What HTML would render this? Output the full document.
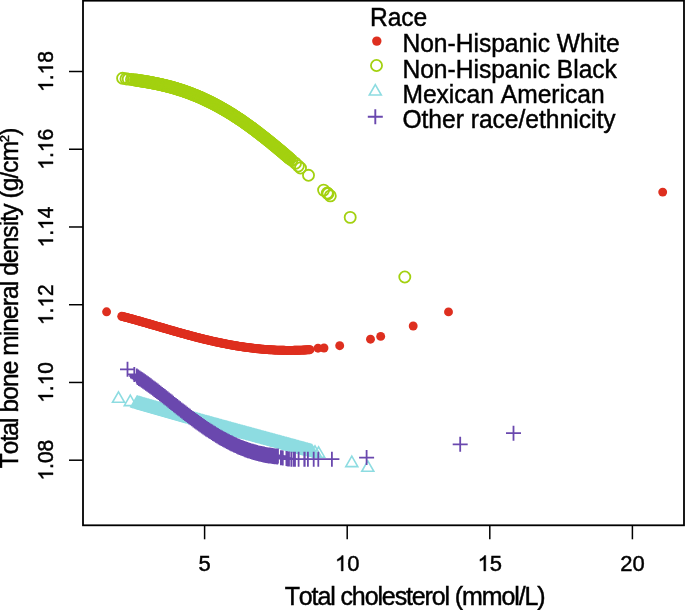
<!DOCTYPE html>
<html><head><meta charset="utf-8"><style>
html,body{margin:0;padding:0;background:#fff;}
svg{display:block;will-change:transform;}
text{font-family:"Liberation Sans",sans-serif;fill:#000;stroke:#000;stroke-width:0.45px;font-kerning:none;}
.tkx{font-size:22px;}
.tky{font-size:21px;}
.ttl{font-size:25px;letter-spacing:-1.12px;font-kerning:none;}
.ytl{font-size:24.5px;letter-spacing:-0.9px;}
.sup{font-size:13px;letter-spacing:0;}
.lg{font-size:24.6px;}
.g1{fill:#000;stroke:#000;stroke-width:0.45px;vector-effect:non-scaling-stroke;}
</style></head><body>
<svg width="685" height="610" viewBox="0 0 685 610">
<g fill="#de2f1f"><circle cx="106.6" cy="311.8" r="4.45"/><circle cx="121.7" cy="316.3" r="4.45"/><circle cx="122.5" cy="316.5" r="4.45"/><circle cx="123.3" cy="316.7" r="4.45"/><circle cx="124.1" cy="316.9" r="4.45"/><circle cx="124.9" cy="317.1" r="4.45"/><circle cx="125.7" cy="317.3" r="4.45"/><circle cx="126.5" cy="317.5" r="4.45"/><circle cx="127.3" cy="317.7" r="4.45"/><circle cx="128.1" cy="317.9" r="4.45"/><circle cx="128.9" cy="318.2" r="4.45"/><circle cx="129.7" cy="318.4" r="4.45"/><circle cx="130.5" cy="318.6" r="4.45"/><circle cx="131.3" cy="318.8" r="4.45"/><circle cx="132.1" cy="319.0" r="4.45"/><circle cx="132.9" cy="319.2" r="4.45"/><circle cx="133.7" cy="319.5" r="4.45"/><circle cx="134.5" cy="319.7" r="4.45"/><circle cx="135.3" cy="319.9" r="4.45"/><circle cx="136.1" cy="320.1" r="4.45"/><circle cx="136.9" cy="320.4" r="4.45"/><circle cx="137.7" cy="320.6" r="4.45"/><circle cx="138.5" cy="320.8" r="4.45"/><circle cx="139.3" cy="321.0" r="4.45"/><circle cx="140.1" cy="321.3" r="4.45"/><circle cx="140.9" cy="321.5" r="4.45"/><circle cx="141.7" cy="321.7" r="4.45"/><circle cx="142.5" cy="322.0" r="4.45"/><circle cx="143.3" cy="322.2" r="4.45"/><circle cx="144.1" cy="322.4" r="4.45"/><circle cx="144.9" cy="322.6" r="4.45"/><circle cx="145.7" cy="322.9" r="4.45"/><circle cx="146.5" cy="323.1" r="4.45"/><circle cx="147.3" cy="323.3" r="4.45"/><circle cx="148.1" cy="323.6" r="4.45"/><circle cx="148.9" cy="323.8" r="4.45"/><circle cx="149.7" cy="324.0" r="4.45"/><circle cx="150.5" cy="324.3" r="4.45"/><circle cx="151.3" cy="324.5" r="4.45"/><circle cx="152.1" cy="324.7" r="4.45"/><circle cx="152.9" cy="325.0" r="4.45"/><circle cx="153.8" cy="325.2" r="4.45"/><circle cx="154.6" cy="325.4" r="4.45"/><circle cx="155.4" cy="325.7" r="4.45"/><circle cx="156.2" cy="325.9" r="4.45"/><circle cx="157.0" cy="326.1" r="4.45"/><circle cx="157.8" cy="326.4" r="4.45"/><circle cx="158.6" cy="326.6" r="4.45"/><circle cx="159.4" cy="326.8" r="4.45"/><circle cx="160.2" cy="327.1" r="4.45"/><circle cx="161.0" cy="327.3" r="4.45"/><circle cx="161.8" cy="327.5" r="4.45"/><circle cx="162.6" cy="327.8" r="4.45"/><circle cx="163.4" cy="328.0" r="4.45"/><circle cx="164.2" cy="328.2" r="4.45"/><circle cx="165.0" cy="328.5" r="4.45"/><circle cx="165.8" cy="328.7" r="4.45"/><circle cx="166.6" cy="328.9" r="4.45"/><circle cx="167.4" cy="329.2" r="4.45"/><circle cx="168.2" cy="329.4" r="4.45"/><circle cx="169.0" cy="329.6" r="4.45"/><circle cx="169.8" cy="329.9" r="4.45"/><circle cx="170.6" cy="330.1" r="4.45"/><circle cx="171.4" cy="330.3" r="4.45"/><circle cx="172.2" cy="330.6" r="4.45"/><circle cx="173.0" cy="330.8" r="4.45"/><circle cx="173.8" cy="331.0" r="4.45"/><circle cx="174.6" cy="331.2" r="4.45"/><circle cx="175.4" cy="331.5" r="4.45"/><circle cx="176.2" cy="331.7" r="4.45"/><circle cx="177.0" cy="331.9" r="4.45"/><circle cx="177.8" cy="332.2" r="4.45"/><circle cx="178.6" cy="332.4" r="4.45"/><circle cx="179.4" cy="332.6" r="4.45"/><circle cx="180.2" cy="332.8" r="4.45"/><circle cx="181.0" cy="333.1" r="4.45"/><circle cx="181.8" cy="333.3" r="4.45"/><circle cx="182.6" cy="333.5" r="4.45"/><circle cx="183.4" cy="333.7" r="4.45"/><circle cx="184.2" cy="333.9" r="4.45"/><circle cx="185.0" cy="334.2" r="4.45"/><circle cx="185.8" cy="334.4" r="4.45"/><circle cx="186.6" cy="334.6" r="4.45"/><circle cx="187.4" cy="334.8" r="4.45"/><circle cx="188.2" cy="335.0" r="4.45"/><circle cx="189.0" cy="335.3" r="4.45"/><circle cx="189.8" cy="335.5" r="4.45"/><circle cx="190.6" cy="335.7" r="4.45"/><circle cx="191.4" cy="335.9" r="4.45"/><circle cx="192.2" cy="336.1" r="4.45"/><circle cx="193.0" cy="336.3" r="4.45"/><circle cx="193.8" cy="336.5" r="4.45"/><circle cx="194.6" cy="336.7" r="4.45"/><circle cx="195.4" cy="337.0" r="4.45"/><circle cx="196.2" cy="337.2" r="4.45"/><circle cx="197.0" cy="337.4" r="4.45"/><circle cx="197.8" cy="337.6" r="4.45"/><circle cx="198.6" cy="337.8" r="4.45"/><circle cx="199.4" cy="338.0" r="4.45"/><circle cx="200.2" cy="338.2" r="4.45"/><circle cx="201.0" cy="338.4" r="4.45"/><circle cx="201.8" cy="338.6" r="4.45"/><circle cx="202.6" cy="338.8" r="4.45"/><circle cx="203.4" cy="339.0" r="4.45"/><circle cx="204.2" cy="339.2" r="4.45"/><circle cx="205.0" cy="339.4" r="4.45"/><circle cx="205.8" cy="339.6" r="4.45"/><circle cx="206.6" cy="339.8" r="4.45"/><circle cx="207.4" cy="339.9" r="4.45"/><circle cx="208.2" cy="340.1" r="4.45"/><circle cx="209.0" cy="340.3" r="4.45"/><circle cx="209.8" cy="340.5" r="4.45"/><circle cx="210.6" cy="340.7" r="4.45"/><circle cx="211.4" cy="340.9" r="4.45"/><circle cx="212.2" cy="341.1" r="4.45"/><circle cx="213.0" cy="341.2" r="4.45"/><circle cx="213.8" cy="341.4" r="4.45"/><circle cx="214.6" cy="341.6" r="4.45"/><circle cx="215.4" cy="341.8" r="4.45"/><circle cx="216.3" cy="342.0" r="4.45"/><circle cx="217.1" cy="342.1" r="4.45"/><circle cx="217.9" cy="342.3" r="4.45"/><circle cx="218.7" cy="342.5" r="4.45"/><circle cx="219.5" cy="342.6" r="4.45"/><circle cx="220.3" cy="342.8" r="4.45"/><circle cx="221.1" cy="343.0" r="4.45"/><circle cx="221.9" cy="343.1" r="4.45"/><circle cx="222.7" cy="343.3" r="4.45"/><circle cx="223.5" cy="343.5" r="4.45"/><circle cx="224.3" cy="343.6" r="4.45"/><circle cx="225.1" cy="343.8" r="4.45"/><circle cx="225.9" cy="343.9" r="4.45"/><circle cx="226.7" cy="344.1" r="4.45"/><circle cx="227.5" cy="344.3" r="4.45"/><circle cx="228.3" cy="344.4" r="4.45"/><circle cx="229.1" cy="344.6" r="4.45"/><circle cx="229.9" cy="344.7" r="4.45"/><circle cx="230.7" cy="344.9" r="4.45"/><circle cx="231.5" cy="345.0" r="4.45"/><circle cx="232.3" cy="345.1" r="4.45"/><circle cx="233.1" cy="345.3" r="4.45"/><circle cx="233.9" cy="345.4" r="4.45"/><circle cx="234.7" cy="345.6" r="4.45"/><circle cx="235.5" cy="345.7" r="4.45"/><circle cx="236.3" cy="345.8" r="4.45"/><circle cx="237.1" cy="346.0" r="4.45"/><circle cx="237.9" cy="346.1" r="4.45"/><circle cx="238.7" cy="346.2" r="4.45"/><circle cx="239.5" cy="346.4" r="4.45"/><circle cx="240.3" cy="346.5" r="4.45"/><circle cx="241.1" cy="346.6" r="4.45"/><circle cx="241.9" cy="346.7" r="4.45"/><circle cx="242.7" cy="346.8" r="4.45"/><circle cx="243.5" cy="347.0" r="4.45"/><circle cx="244.3" cy="347.1" r="4.45"/><circle cx="245.1" cy="347.2" r="4.45"/><circle cx="245.9" cy="347.3" r="4.45"/><circle cx="246.7" cy="347.4" r="4.45"/><circle cx="247.5" cy="347.5" r="4.45"/><circle cx="248.3" cy="347.6" r="4.45"/><circle cx="249.1" cy="347.7" r="4.45"/><circle cx="249.9" cy="347.8" r="4.45"/><circle cx="250.7" cy="347.9" r="4.45"/><circle cx="251.5" cy="348.0" r="4.45"/><circle cx="252.3" cy="348.1" r="4.45"/><circle cx="253.1" cy="348.2" r="4.45"/><circle cx="253.9" cy="348.3" r="4.45"/><circle cx="254.7" cy="348.4" r="4.45"/><circle cx="255.5" cy="348.5" r="4.45"/><circle cx="256.3" cy="348.6" r="4.45"/><circle cx="257.1" cy="348.7" r="4.45"/><circle cx="257.9" cy="348.8" r="4.45"/><circle cx="258.7" cy="348.8" r="4.45"/><circle cx="259.5" cy="348.9" r="4.45"/><circle cx="260.3" cy="349.0" r="4.45"/><circle cx="261.1" cy="349.1" r="4.45"/><circle cx="261.9" cy="349.1" r="4.45"/><circle cx="262.7" cy="349.2" r="4.45"/><circle cx="263.5" cy="349.3" r="4.45"/><circle cx="264.3" cy="349.4" r="4.45"/><circle cx="265.1" cy="349.4" r="4.45"/><circle cx="265.9" cy="349.5" r="4.45"/><circle cx="266.7" cy="349.5" r="4.45"/><circle cx="267.5" cy="349.6" r="4.45"/><circle cx="268.3" cy="349.7" r="4.45"/><circle cx="269.1" cy="349.7" r="4.45"/><circle cx="269.9" cy="349.8" r="4.45"/><circle cx="270.7" cy="349.8" r="4.45"/><circle cx="271.5" cy="349.9" r="4.45"/><circle cx="272.3" cy="349.9" r="4.45"/><circle cx="273.1" cy="349.9" r="4.45"/><circle cx="273.9" cy="350.0" r="4.45"/><circle cx="274.7" cy="350.0" r="4.45"/><circle cx="275.5" cy="350.1" r="4.45"/><circle cx="276.3" cy="350.1" r="4.45"/><circle cx="277.1" cy="350.1" r="4.45"/><circle cx="277.9" cy="350.2" r="4.45"/><circle cx="278.8" cy="350.2" r="4.45"/><circle cx="279.6" cy="350.2" r="4.45"/><circle cx="280.4" cy="350.2" r="4.45"/><circle cx="281.2" cy="350.3" r="4.45"/><circle cx="282.0" cy="350.3" r="4.45"/><circle cx="282.8" cy="350.3" r="4.45"/><circle cx="283.6" cy="350.3" r="4.45"/><circle cx="284.4" cy="350.3" r="4.45"/><circle cx="285.2" cy="350.4" r="4.45"/><circle cx="286.0" cy="350.4" r="4.45"/><circle cx="286.8" cy="350.4" r="4.45"/><circle cx="287.6" cy="350.4" r="4.45"/><circle cx="288.4" cy="350.4" r="4.45"/><circle cx="289.2" cy="350.4" r="4.45"/><circle cx="290.0" cy="350.4" r="4.45"/><circle cx="290.8" cy="350.4" r="4.45"/><circle cx="291.6" cy="350.4" r="4.45"/><circle cx="292.4" cy="350.4" r="4.45"/><circle cx="293.2" cy="350.4" r="4.45"/><circle cx="294.0" cy="350.3" r="4.45"/><circle cx="294.8" cy="350.3" r="4.45"/><circle cx="295.6" cy="350.3" r="4.45"/><circle cx="296.4" cy="350.3" r="4.45"/><circle cx="297.2" cy="350.3" r="4.45"/><circle cx="298.0" cy="350.3" r="4.45"/><circle cx="298.8" cy="350.2" r="4.45"/><circle cx="299.6" cy="350.2" r="4.45"/><circle cx="300.4" cy="350.2" r="4.45"/><circle cx="301.2" cy="350.1" r="4.45"/><circle cx="302.0" cy="350.1" r="4.45"/><circle cx="302.8" cy="350.1" r="4.45"/><circle cx="303.6" cy="350.0" r="4.45"/><circle cx="304.4" cy="350.0" r="4.45"/><circle cx="305.2" cy="350.0" r="4.45"/><circle cx="306.0" cy="349.9" r="4.45"/><circle cx="306.8" cy="349.9" r="4.45"/><circle cx="307.6" cy="349.8" r="4.45"/><circle cx="308.4" cy="349.8" r="4.45"/><circle cx="309.2" cy="349.7" r="4.45"/><circle cx="310.0" cy="349.7" r="4.45"/><circle cx="318.0" cy="348.2" r="4.45"/><circle cx="324.0" cy="348.0" r="4.45"/><circle cx="339.7" cy="345.7" r="4.45"/><circle cx="370.5" cy="339.2" r="4.45"/><circle cx="380.7" cy="336.4" r="4.45"/><circle cx="413.2" cy="326.0" r="4.45"/><circle cx="448.5" cy="311.9" r="4.45"/><circle cx="662.7" cy="192.1" r="4.45"/></g>
<g fill="none" stroke="#a3d110" stroke-width="1.8"><circle cx="122.6" cy="78.3" r="5.55"/><circle cx="126.0" cy="78.8" r="5.55"/><circle cx="128.2" cy="79.1" r="5.55"/><circle cx="131.5" cy="79.5" r="5.55"/><circle cx="133.6" cy="79.8" r="5.55"/><circle cx="135.5" cy="80.0" r="5.55"/><circle cx="136.2" cy="80.1" r="5.55"/><circle cx="136.9" cy="80.2" r="5.55"/><circle cx="137.6" cy="80.3" r="5.55"/><circle cx="138.3" cy="80.5" r="5.55"/><circle cx="139.0" cy="80.6" r="5.55"/><circle cx="139.7" cy="80.7" r="5.55"/><circle cx="140.4" cy="80.8" r="5.55"/><circle cx="141.1" cy="80.9" r="5.55"/><circle cx="141.8" cy="81.0" r="5.55"/><circle cx="142.5" cy="81.1" r="5.55"/><circle cx="143.2" cy="81.2" r="5.55"/><circle cx="143.9" cy="81.3" r="5.55"/><circle cx="144.6" cy="81.4" r="5.55"/><circle cx="145.3" cy="81.6" r="5.55"/><circle cx="146.0" cy="81.7" r="5.55"/><circle cx="146.7" cy="81.8" r="5.55"/><circle cx="147.4" cy="81.9" r="5.55"/><circle cx="148.1" cy="82.0" r="5.55"/><circle cx="148.8" cy="82.2" r="5.55"/><circle cx="149.5" cy="82.3" r="5.55"/><circle cx="150.2" cy="82.4" r="5.55"/><circle cx="150.9" cy="82.5" r="5.55"/><circle cx="151.6" cy="82.7" r="5.55"/><circle cx="152.3" cy="82.8" r="5.55"/><circle cx="153.0" cy="82.9" r="5.55"/><circle cx="153.7" cy="83.1" r="5.55"/><circle cx="154.4" cy="83.2" r="5.55"/><circle cx="155.1" cy="83.4" r="5.55"/><circle cx="155.8" cy="83.5" r="5.55"/><circle cx="156.5" cy="83.6" r="5.55"/><circle cx="157.2" cy="83.8" r="5.55"/><circle cx="157.9" cy="83.9" r="5.55"/><circle cx="158.6" cy="84.1" r="5.55"/><circle cx="159.3" cy="84.2" r="5.55"/><circle cx="160.0" cy="84.4" r="5.55"/><circle cx="160.7" cy="84.5" r="5.55"/><circle cx="161.4" cy="84.7" r="5.55"/><circle cx="162.1" cy="84.9" r="5.55"/><circle cx="162.8" cy="85.0" r="5.55"/><circle cx="163.5" cy="85.2" r="5.55"/><circle cx="164.2" cy="85.4" r="5.55"/><circle cx="164.9" cy="85.5" r="5.55"/><circle cx="165.6" cy="85.7" r="5.55"/><circle cx="166.3" cy="85.9" r="5.55"/><circle cx="167.0" cy="86.0" r="5.55"/><circle cx="167.7" cy="86.2" r="5.55"/><circle cx="168.4" cy="86.4" r="5.55"/><circle cx="169.1" cy="86.6" r="5.55"/><circle cx="169.8" cy="86.8" r="5.55"/><circle cx="170.5" cy="87.0" r="5.55"/><circle cx="171.2" cy="87.1" r="5.55"/><circle cx="171.9" cy="87.3" r="5.55"/><circle cx="172.6" cy="87.5" r="5.55"/><circle cx="173.3" cy="87.7" r="5.55"/><circle cx="174.0" cy="87.9" r="5.55"/><circle cx="174.6" cy="88.1" r="5.55"/><circle cx="175.3" cy="88.3" r="5.55"/><circle cx="176.0" cy="88.5" r="5.55"/><circle cx="176.7" cy="88.8" r="5.55"/><circle cx="177.4" cy="89.0" r="5.55"/><circle cx="178.1" cy="89.2" r="5.55"/><circle cx="178.8" cy="89.4" r="5.55"/><circle cx="179.5" cy="89.6" r="5.55"/><circle cx="180.2" cy="89.8" r="5.55"/><circle cx="180.9" cy="90.1" r="5.55"/><circle cx="181.6" cy="90.3" r="5.55"/><circle cx="182.3" cy="90.5" r="5.55"/><circle cx="183.0" cy="90.8" r="5.55"/><circle cx="183.7" cy="91.0" r="5.55"/><circle cx="184.4" cy="91.2" r="5.55"/><circle cx="185.1" cy="91.5" r="5.55"/><circle cx="185.8" cy="91.7" r="5.55"/><circle cx="186.5" cy="92.0" r="5.55"/><circle cx="187.2" cy="92.2" r="5.55"/><circle cx="187.9" cy="92.5" r="5.55"/><circle cx="188.6" cy="92.7" r="5.55"/><circle cx="189.3" cy="93.0" r="5.55"/><circle cx="190.0" cy="93.3" r="5.55"/><circle cx="190.7" cy="93.5" r="5.55"/><circle cx="191.4" cy="93.8" r="5.55"/><circle cx="192.1" cy="94.1" r="5.55"/><circle cx="192.8" cy="94.3" r="5.55"/><circle cx="193.5" cy="94.6" r="5.55"/><circle cx="194.2" cy="94.9" r="5.55"/><circle cx="194.9" cy="95.2" r="5.55"/><circle cx="195.6" cy="95.5" r="5.55"/><circle cx="196.3" cy="95.7" r="5.55"/><circle cx="197.0" cy="96.0" r="5.55"/><circle cx="197.7" cy="96.3" r="5.55"/><circle cx="198.4" cy="96.6" r="5.55"/><circle cx="199.1" cy="96.9" r="5.55"/><circle cx="199.8" cy="97.2" r="5.55"/><circle cx="200.5" cy="97.5" r="5.55"/><circle cx="201.2" cy="97.8" r="5.55"/><circle cx="201.9" cy="98.1" r="5.55"/><circle cx="202.6" cy="98.5" r="5.55"/><circle cx="203.3" cy="98.8" r="5.55"/><circle cx="204.0" cy="99.1" r="5.55"/><circle cx="204.7" cy="99.4" r="5.55"/><circle cx="205.4" cy="99.8" r="5.55"/><circle cx="206.1" cy="100.1" r="5.55"/><circle cx="206.8" cy="100.4" r="5.55"/><circle cx="207.5" cy="100.7" r="5.55"/><circle cx="208.2" cy="101.1" r="5.55"/><circle cx="208.9" cy="101.4" r="5.55"/><circle cx="209.6" cy="101.8" r="5.55"/><circle cx="210.3" cy="102.1" r="5.55"/><circle cx="211.0" cy="102.5" r="5.55"/><circle cx="211.7" cy="102.8" r="5.55"/><circle cx="212.4" cy="103.2" r="5.55"/><circle cx="213.1" cy="103.5" r="5.55"/><circle cx="213.8" cy="103.9" r="5.55"/><circle cx="214.5" cy="104.3" r="5.55"/><circle cx="215.2" cy="104.6" r="5.55"/><circle cx="215.9" cy="105.0" r="5.55"/><circle cx="216.6" cy="105.4" r="5.55"/><circle cx="217.3" cy="105.8" r="5.55"/><circle cx="218.0" cy="106.1" r="5.55"/><circle cx="218.7" cy="106.5" r="5.55"/><circle cx="219.4" cy="106.9" r="5.55"/><circle cx="220.1" cy="107.3" r="5.55"/><circle cx="220.8" cy="107.7" r="5.55"/><circle cx="221.5" cy="108.1" r="5.55"/><circle cx="222.2" cy="108.5" r="5.55"/><circle cx="222.9" cy="108.9" r="5.55"/><circle cx="223.6" cy="109.3" r="5.55"/><circle cx="224.3" cy="109.7" r="5.55"/><circle cx="225.0" cy="110.1" r="5.55"/><circle cx="225.7" cy="110.5" r="5.55"/><circle cx="226.4" cy="110.9" r="5.55"/><circle cx="227.1" cy="111.3" r="5.55"/><circle cx="227.8" cy="111.8" r="5.55"/><circle cx="228.5" cy="112.2" r="5.55"/><circle cx="229.2" cy="112.6" r="5.55"/><circle cx="229.9" cy="113.0" r="5.55"/><circle cx="230.6" cy="113.5" r="5.55"/><circle cx="231.3" cy="113.9" r="5.55"/><circle cx="232.0" cy="114.3" r="5.55"/><circle cx="232.7" cy="114.8" r="5.55"/><circle cx="233.4" cy="115.2" r="5.55"/><circle cx="234.1" cy="115.7" r="5.55"/><circle cx="234.8" cy="116.1" r="5.55"/><circle cx="235.5" cy="116.6" r="5.55"/><circle cx="236.2" cy="117.0" r="5.55"/><circle cx="236.9" cy="117.5" r="5.55"/><circle cx="237.6" cy="118.0" r="5.55"/><circle cx="238.3" cy="118.4" r="5.55"/><circle cx="239.0" cy="118.9" r="5.55"/><circle cx="239.7" cy="119.4" r="5.55"/><circle cx="240.4" cy="119.8" r="5.55"/><circle cx="241.1" cy="120.3" r="5.55"/><circle cx="241.8" cy="120.8" r="5.55"/><circle cx="242.5" cy="121.3" r="5.55"/><circle cx="243.2" cy="121.7" r="5.55"/><circle cx="243.9" cy="122.2" r="5.55"/><circle cx="244.6" cy="122.7" r="5.55"/><circle cx="245.3" cy="123.2" r="5.55"/><circle cx="246.0" cy="123.7" r="5.55"/><circle cx="246.7" cy="124.2" r="5.55"/><circle cx="247.4" cy="124.7" r="5.55"/><circle cx="248.1" cy="125.2" r="5.55"/><circle cx="248.8" cy="125.7" r="5.55"/><circle cx="249.5" cy="126.2" r="5.55"/><circle cx="250.2" cy="126.7" r="5.55"/><circle cx="250.9" cy="127.2" r="5.55"/><circle cx="251.5" cy="127.7" r="5.55"/><circle cx="252.2" cy="128.2" r="5.55"/><circle cx="252.9" cy="128.7" r="5.55"/><circle cx="253.6" cy="129.3" r="5.55"/><circle cx="254.3" cy="129.8" r="5.55"/><circle cx="255.0" cy="130.3" r="5.55"/><circle cx="255.7" cy="130.8" r="5.55"/><circle cx="256.4" cy="131.4" r="5.55"/><circle cx="257.1" cy="131.9" r="5.55"/><circle cx="257.8" cy="132.4" r="5.55"/><circle cx="258.5" cy="133.0" r="5.55"/><circle cx="259.2" cy="133.5" r="5.55"/><circle cx="259.9" cy="134.0" r="5.55"/><circle cx="260.6" cy="134.6" r="5.55"/><circle cx="261.3" cy="135.1" r="5.55"/><circle cx="262.0" cy="135.7" r="5.55"/><circle cx="262.7" cy="136.2" r="5.55"/><circle cx="263.4" cy="136.8" r="5.55"/><circle cx="264.1" cy="137.3" r="5.55"/><circle cx="264.8" cy="137.9" r="5.55"/><circle cx="265.5" cy="138.4" r="5.55"/><circle cx="266.2" cy="139.0" r="5.55"/><circle cx="266.9" cy="139.5" r="5.55"/><circle cx="267.6" cy="140.1" r="5.55"/><circle cx="268.3" cy="140.7" r="5.55"/><circle cx="269.0" cy="141.2" r="5.55"/><circle cx="269.7" cy="141.8" r="5.55"/><circle cx="270.4" cy="142.3" r="5.55"/><circle cx="271.1" cy="142.9" r="5.55"/><circle cx="271.8" cy="143.5" r="5.55"/><circle cx="272.5" cy="144.1" r="5.55"/><circle cx="273.2" cy="144.6" r="5.55"/><circle cx="273.9" cy="145.2" r="5.55"/><circle cx="274.6" cy="145.8" r="5.55"/><circle cx="275.3" cy="146.4" r="5.55"/><circle cx="276.0" cy="146.9" r="5.55"/><circle cx="276.7" cy="147.5" r="5.55"/><circle cx="277.4" cy="148.1" r="5.55"/><circle cx="278.1" cy="148.7" r="5.55"/><circle cx="278.8" cy="149.3" r="5.55"/><circle cx="279.5" cy="149.9" r="5.55"/><circle cx="280.2" cy="150.4" r="5.55"/><circle cx="280.9" cy="151.0" r="5.55"/><circle cx="281.6" cy="151.6" r="5.55"/><circle cx="282.3" cy="152.2" r="5.55"/><circle cx="283.0" cy="152.8" r="5.55"/><circle cx="283.7" cy="153.4" r="5.55"/><circle cx="284.4" cy="154.0" r="5.55"/><circle cx="285.1" cy="154.6" r="5.55"/><circle cx="285.8" cy="155.2" r="5.55"/><circle cx="286.5" cy="155.8" r="5.55"/><circle cx="287.2" cy="156.4" r="5.55"/><circle cx="287.9" cy="157.0" r="5.55"/><circle cx="288.6" cy="157.6" r="5.55"/><circle cx="289.3" cy="158.2" r="5.55"/><circle cx="290.0" cy="158.8" r="5.55"/><circle cx="291.8" cy="160.2" r="5.55"/><circle cx="295.5" cy="163.3" r="5.55"/><circle cx="298.3" cy="166.0" r="5.55"/><circle cx="300.5" cy="168.0" r="5.55"/><circle cx="308.5" cy="175.3" r="5.55"/><circle cx="323.6" cy="190.1" r="5.55"/><circle cx="327.3" cy="193.0" r="5.55"/><circle cx="328.0" cy="193.7" r="5.55"/><circle cx="330.3" cy="195.9" r="5.55"/><circle cx="350.2" cy="217.4" r="5.55"/><circle cx="404.8" cy="277.0" r="5.55"/></g>
<path fill="none" stroke="#8ddce1" stroke-width="1.6" d="M118.5 391.9l6.0 10.4h-12.0zM130.3 395.2l6.0 10.4h-12.0zM137.0 396.4l6.0 10.4h-12.0zM137.7 396.6l6.0 10.4h-12.0zM138.4 396.8l6.0 10.4h-12.0zM139.1 397.0l6.0 10.4h-12.0zM139.8 397.2l6.0 10.4h-12.0zM140.5 397.4l6.0 10.4h-12.0zM141.2 397.6l6.0 10.4h-12.0zM141.9 397.8l6.0 10.4h-12.0zM142.6 398.1l6.0 10.4h-12.0zM143.3 398.3l6.0 10.4h-12.0zM144.0 398.5l6.0 10.4h-12.0zM144.7 398.7l6.0 10.4h-12.0zM145.4 398.9l6.0 10.4h-12.0zM146.1 399.1l6.0 10.4h-12.0zM146.8 399.3l6.0 10.4h-12.0zM147.5 399.5l6.0 10.4h-12.0zM148.2 399.7l6.0 10.4h-12.0zM148.9 399.9l6.0 10.4h-12.0zM149.6 400.1l6.0 10.4h-12.0zM150.3 400.3l6.0 10.4h-12.0zM151.0 400.5l6.0 10.4h-12.0zM151.7 400.7l6.0 10.4h-12.0zM152.4 400.9l6.0 10.4h-12.0zM153.1 401.1l6.0 10.4h-12.0zM153.8 401.3l6.0 10.4h-12.0zM154.5 401.5l6.0 10.4h-12.0zM155.2 401.7l6.0 10.4h-12.0zM155.9 401.9l6.0 10.4h-12.0zM156.6 402.1l6.0 10.4h-12.0zM157.3 402.3l6.0 10.4h-12.0zM158.0 402.5l6.0 10.4h-12.0zM158.7 402.7l6.0 10.4h-12.0zM159.4 402.9l6.0 10.4h-12.0zM160.1 403.1l6.0 10.4h-12.0zM160.8 403.3l6.0 10.4h-12.0zM161.5 403.5l6.0 10.4h-12.0zM162.2 403.7l6.0 10.4h-12.0zM162.9 403.9l6.0 10.4h-12.0zM163.6 404.1l6.0 10.4h-12.0zM164.3 404.3l6.0 10.4h-12.0zM165.0 404.5l6.0 10.4h-12.0zM165.7 404.7l6.0 10.4h-12.0zM166.4 404.9l6.0 10.4h-12.0zM167.1 405.1l6.0 10.4h-12.0zM167.8 405.3l6.0 10.4h-12.0zM168.5 405.5l6.0 10.4h-12.0zM169.2 405.7l6.0 10.4h-12.0zM169.9 405.9l6.0 10.4h-12.0zM170.6 406.1l6.0 10.4h-12.0zM171.3 406.3l6.0 10.4h-12.0zM172.0 406.5l6.0 10.4h-12.0zM172.7 406.7l6.0 10.4h-12.0zM173.4 406.9l6.0 10.4h-12.0zM174.1 407.1l6.0 10.4h-12.0zM174.8 407.3l6.0 10.4h-12.0zM175.5 407.5l6.0 10.4h-12.0zM176.2 407.7l6.0 10.4h-12.0zM176.9 407.9l6.0 10.4h-12.0zM177.6 408.1l6.0 10.4h-12.0zM178.3 408.3l6.0 10.4h-12.0zM179.0 408.5l6.0 10.4h-12.0zM179.7 408.7l6.0 10.4h-12.0zM180.4 408.9l6.0 10.4h-12.0zM181.1 409.1l6.0 10.4h-12.0zM181.8 409.3l6.0 10.4h-12.0zM182.5 409.5l6.0 10.4h-12.0zM183.2 409.7l6.0 10.4h-12.0zM183.9 409.9l6.0 10.4h-12.0zM184.6 410.1l6.0 10.4h-12.0zM185.3 410.3l6.0 10.4h-12.0zM186.0 410.5l6.0 10.4h-12.0zM186.7 410.7l6.0 10.4h-12.0zM187.4 410.9l6.0 10.4h-12.0zM188.1 411.1l6.0 10.4h-12.0zM188.8 411.3l6.0 10.4h-12.0zM189.5 411.5l6.0 10.4h-12.0zM190.2 411.7l6.0 10.4h-12.0zM190.9 411.9l6.0 10.4h-12.0zM191.6 412.1l6.0 10.4h-12.0zM192.3 412.3l6.0 10.4h-12.0zM193.0 412.4l6.0 10.4h-12.0zM193.7 412.6l6.0 10.4h-12.0zM194.4 412.8l6.0 10.4h-12.0zM195.1 413.0l6.0 10.4h-12.0zM195.8 413.2l6.0 10.4h-12.0zM196.5 413.4l6.0 10.4h-12.0zM197.2 413.6l6.0 10.4h-12.0zM197.9 413.8l6.0 10.4h-12.0zM198.6 414.0l6.0 10.4h-12.0zM199.3 414.2l6.0 10.4h-12.0zM200.0 414.4l6.0 10.4h-12.0zM200.7 414.6l6.0 10.4h-12.0zM201.4 414.8l6.0 10.4h-12.0zM202.1 415.0l6.0 10.4h-12.0zM202.8 415.2l6.0 10.4h-12.0zM203.5 415.4l6.0 10.4h-12.0zM204.2 415.6l6.0 10.4h-12.0zM204.9 415.8l6.0 10.4h-12.0zM205.6 416.0l6.0 10.4h-12.0zM206.3 416.1l6.0 10.4h-12.0zM207.0 416.3l6.0 10.4h-12.0zM207.7 416.5l6.0 10.4h-12.0zM208.4 416.7l6.0 10.4h-12.0zM209.1 416.9l6.0 10.4h-12.0zM209.8 417.1l6.0 10.4h-12.0zM210.5 417.3l6.0 10.4h-12.0zM211.2 417.5l6.0 10.4h-12.0zM211.9 417.7l6.0 10.4h-12.0zM212.6 417.9l6.0 10.4h-12.0zM213.3 418.1l6.0 10.4h-12.0zM214.0 418.3l6.0 10.4h-12.0zM214.7 418.5l6.0 10.4h-12.0zM215.4 418.7l6.0 10.4h-12.0zM216.1 418.9l6.0 10.4h-12.0zM216.8 419.0l6.0 10.4h-12.0zM217.5 419.2l6.0 10.4h-12.0zM218.2 419.4l6.0 10.4h-12.0zM218.9 419.6l6.0 10.4h-12.0zM219.6 419.8l6.0 10.4h-12.0zM220.3 420.0l6.0 10.4h-12.0zM221.0 420.2l6.0 10.4h-12.0zM221.7 420.4l6.0 10.4h-12.0zM222.4 420.6l6.0 10.4h-12.0zM223.1 420.8l6.0 10.4h-12.0zM223.8 421.0l6.0 10.4h-12.0zM224.5 421.2l6.0 10.4h-12.0zM225.2 421.4l6.0 10.4h-12.0zM225.9 421.5l6.0 10.4h-12.0zM226.6 421.7l6.0 10.4h-12.0zM227.3 421.9l6.0 10.4h-12.0zM228.0 422.1l6.0 10.4h-12.0zM228.7 422.3l6.0 10.4h-12.0zM229.4 422.5l6.0 10.4h-12.0zM230.1 422.7l6.0 10.4h-12.0zM230.8 422.9l6.0 10.4h-12.0zM231.5 423.1l6.0 10.4h-12.0zM232.2 423.3l6.0 10.4h-12.0zM232.9 423.5l6.0 10.4h-12.0zM233.6 423.7l6.0 10.4h-12.0zM234.3 423.8l6.0 10.4h-12.0zM235.0 424.0l6.0 10.4h-12.0zM235.7 424.2l6.0 10.4h-12.0zM236.4 424.4l6.0 10.4h-12.0zM237.1 424.6l6.0 10.4h-12.0zM237.8 424.8l6.0 10.4h-12.0zM238.5 425.0l6.0 10.4h-12.0zM239.2 425.2l6.0 10.4h-12.0zM239.9 425.4l6.0 10.4h-12.0zM240.6 425.6l6.0 10.4h-12.0zM241.3 425.8l6.0 10.4h-12.0zM242.0 425.9l6.0 10.4h-12.0zM242.7 426.1l6.0 10.4h-12.0zM243.4 426.3l6.0 10.4h-12.0zM244.1 426.5l6.0 10.4h-12.0zM244.8 426.7l6.0 10.4h-12.0zM245.5 426.9l6.0 10.4h-12.0zM246.2 427.1l6.0 10.4h-12.0zM246.9 427.3l6.0 10.4h-12.0zM247.6 427.5l6.0 10.4h-12.0zM248.3 427.7l6.0 10.4h-12.0zM249.0 427.9l6.0 10.4h-12.0zM249.7 428.0l6.0 10.4h-12.0zM250.4 428.2l6.0 10.4h-12.0zM251.1 428.4l6.0 10.4h-12.0zM251.8 428.6l6.0 10.4h-12.0zM252.5 428.8l6.0 10.4h-12.0zM253.2 429.0l6.0 10.4h-12.0zM253.9 429.2l6.0 10.4h-12.0zM254.6 429.4l6.0 10.4h-12.0zM255.3 429.6l6.0 10.4h-12.0zM256.0 429.8l6.0 10.4h-12.0zM256.7 429.9l6.0 10.4h-12.0zM257.4 430.1l6.0 10.4h-12.0zM258.1 430.3l6.0 10.4h-12.0zM258.8 430.5l6.0 10.4h-12.0zM259.5 430.7l6.0 10.4h-12.0zM260.2 430.9l6.0 10.4h-12.0zM260.9 431.1l6.0 10.4h-12.0zM261.6 431.3l6.0 10.4h-12.0zM262.3 431.5l6.0 10.4h-12.0zM263.0 431.7l6.0 10.4h-12.0zM263.7 431.9l6.0 10.4h-12.0zM264.4 432.0l6.0 10.4h-12.0zM265.1 432.2l6.0 10.4h-12.0zM265.8 432.4l6.0 10.4h-12.0zM266.5 432.6l6.0 10.4h-12.0zM267.2 432.8l6.0 10.4h-12.0zM267.9 433.0l6.0 10.4h-12.0zM268.6 433.2l6.0 10.4h-12.0zM269.3 433.4l6.0 10.4h-12.0zM270.0 433.6l6.0 10.4h-12.0zM270.7 433.8l6.0 10.4h-12.0zM271.4 433.9l6.0 10.4h-12.0zM272.1 434.1l6.0 10.4h-12.0zM272.8 434.3l6.0 10.4h-12.0zM273.5 434.5l6.0 10.4h-12.0zM274.2 434.7l6.0 10.4h-12.0zM274.9 434.9l6.0 10.4h-12.0zM275.6 435.1l6.0 10.4h-12.0zM276.3 435.3l6.0 10.4h-12.0zM277.0 435.5l6.0 10.4h-12.0zM277.7 435.7l6.0 10.4h-12.0zM278.4 435.8l6.0 10.4h-12.0zM279.1 436.0l6.0 10.4h-12.0zM279.8 436.2l6.0 10.4h-12.0zM280.5 436.4l6.0 10.4h-12.0zM281.2 436.6l6.0 10.4h-12.0zM281.9 436.8l6.0 10.4h-12.0zM282.6 437.0l6.0 10.4h-12.0zM283.3 437.2l6.0 10.4h-12.0zM284.0 437.4l6.0 10.4h-12.0zM284.7 437.6l6.0 10.4h-12.0zM285.4 437.8l6.0 10.4h-12.0zM286.1 437.9l6.0 10.4h-12.0zM286.8 438.1l6.0 10.4h-12.0zM287.5 438.3l6.0 10.4h-12.0zM288.2 438.5l6.0 10.4h-12.0zM288.9 438.7l6.0 10.4h-12.0zM289.6 438.9l6.0 10.4h-12.0zM290.3 439.1l6.0 10.4h-12.0zM291.0 439.3l6.0 10.4h-12.0zM291.7 439.5l6.0 10.4h-12.0zM292.4 439.7l6.0 10.4h-12.0zM293.1 439.9l6.0 10.4h-12.0zM293.8 440.0l6.0 10.4h-12.0zM294.5 440.2l6.0 10.4h-12.0zM295.2 440.4l6.0 10.4h-12.0zM295.9 440.6l6.0 10.4h-12.0zM296.6 440.8l6.0 10.4h-12.0zM297.3 441.0l6.0 10.4h-12.0zM298.0 441.2l6.0 10.4h-12.0zM298.7 441.4l6.0 10.4h-12.0zM299.4 441.6l6.0 10.4h-12.0zM300.1 441.8l6.0 10.4h-12.0zM300.8 442.0l6.0 10.4h-12.0zM301.5 442.1l6.0 10.4h-12.0zM302.2 442.3l6.0 10.4h-12.0zM302.9 442.5l6.0 10.4h-12.0zM303.6 442.7l6.0 10.4h-12.0zM304.3 442.9l6.0 10.4h-12.0zM305.0 443.1l6.0 10.4h-12.0zM305.7 443.3l6.0 10.4h-12.0zM306.4 443.5l6.0 10.4h-12.0zM307.1 443.7l6.0 10.4h-12.0zM307.8 443.9l6.0 10.4h-12.0zM308.5 444.1l6.0 10.4h-12.0zM309.2 444.3l6.0 10.4h-12.0zM309.9 444.4l6.0 10.4h-12.0zM310.6 444.6l6.0 10.4h-12.0zM311.3 444.8l6.0 10.4h-12.0zM312.0 445.0l6.0 10.4h-12.0zM315.0 445.9l6.0 10.4h-12.0zM318.6 446.8l6.0 10.4h-12.0zM351.8 456.2l6.0 10.4h-12.0zM367.8 460.9l6.0 10.4h-12.0z"/>
<path fill="none" stroke="#6a48ae" stroke-width="1.8" d="M120.0 369.3h15.0M127.5 361.8v15.0M126.8 374.4h15.0M134.3 366.9v15.0M129.3 376.1h15.0M136.8 368.6v15.0M130.0 377.5h15.0M137.5 370.0v15.0M130.7 377.0h15.0M138.2 369.5v15.0M131.4 378.4h15.0M138.9 370.9v15.0M132.1 378.0h15.0M139.6 370.5v15.0M132.8 379.3h15.0M140.3 371.8v15.0M133.5 378.9h15.0M141.0 371.4v15.0M134.2 380.3h15.0M141.7 372.8v15.0M134.9 379.8h15.0M142.4 372.3v15.0M135.6 381.2h15.0M143.1 373.7v15.0M136.3 380.8h15.0M143.8 373.3v15.0M137.0 382.2h15.0M144.5 374.7v15.0M137.7 381.8h15.0M145.2 374.3v15.0M138.4 383.2h15.0M145.9 375.7v15.0M139.1 382.8h15.0M146.6 375.3v15.0M139.8 384.2h15.0M147.3 376.7v15.0M140.5 383.8h15.0M148.0 376.3v15.0M141.2 385.2h15.0M148.7 377.7v15.0M141.9 384.8h15.0M149.4 377.3v15.0M142.6 386.2h15.0M150.1 378.7v15.0M143.3 385.8h15.0M150.8 378.3v15.0M144.0 387.3h15.0M151.5 379.8v15.0M144.7 386.9h15.0M152.2 379.4v15.0M145.4 388.3h15.0M152.9 380.8v15.0M146.1 387.9h15.0M153.6 380.4v15.0M146.8 389.4h15.0M154.3 381.9v15.0M147.5 389.0h15.0M155.0 381.5v15.0M148.2 390.4h15.0M155.7 382.9v15.0M148.9 390.1h15.0M156.4 382.6v15.0M149.6 391.5h15.0M157.1 384.0v15.0M150.3 391.1h15.0M157.8 383.6v15.0M151.0 392.6h15.0M158.5 385.1v15.0M151.7 392.2h15.0M159.2 384.7v15.0M152.4 393.7h15.0M159.9 386.2v15.0M153.1 393.3h15.0M160.6 385.8v15.0M153.8 394.7h15.0M161.3 387.2v15.0M154.5 394.4h15.0M162.0 386.9v15.0M155.2 395.8h15.0M162.7 388.3v15.0M155.9 395.5h15.0M163.4 388.0v15.0M156.6 396.9h15.0M164.1 389.4v15.0M157.3 396.6h15.0M164.8 389.1v15.0M158.0 398.0h15.0M165.5 390.5v15.0M158.7 397.7h15.0M166.2 390.2v15.0M159.4 399.1h15.0M166.9 391.6v15.0M160.1 398.8h15.0M167.6 391.3v15.0M160.8 400.3h15.0M168.3 392.8v15.0M161.5 399.9h15.0M169.0 392.4v15.0M162.2 401.4h15.0M169.7 393.9v15.0M162.9 401.0h15.0M170.4 393.5v15.0M163.6 402.5h15.0M171.1 395.0v15.0M164.3 402.1h15.0M171.8 394.6v15.0M164.9 403.6h15.0M172.4 396.1v15.0M165.6 403.2h15.0M173.1 395.7v15.0M166.3 404.7h15.0M173.8 397.2v15.0M167.0 404.4h15.0M174.5 396.9v15.0M167.7 405.8h15.0M175.2 398.3v15.0M168.4 405.5h15.0M175.9 398.0v15.0M169.1 406.9h15.0M176.6 399.4v15.0M169.8 406.6h15.0M177.3 399.1v15.0M170.5 408.0h15.0M178.0 400.5v15.0M171.2 407.7h15.0M178.7 400.2v15.0M171.9 409.1h15.0M179.4 401.6v15.0M172.6 408.8h15.0M180.1 401.3v15.0M173.3 410.2h15.0M180.8 402.7v15.0M174.0 409.9h15.0M181.5 402.4v15.0M174.7 411.3h15.0M182.2 403.8v15.0M175.4 411.0h15.0M182.9 403.5v15.0M176.1 412.4h15.0M183.6 404.9v15.0M176.8 412.1h15.0M184.3 404.6v15.0M177.5 413.5h15.0M185.0 406.0v15.0M178.2 413.1h15.0M185.7 405.6v15.0M178.9 414.6h15.0M186.4 407.1v15.0M179.6 414.2h15.0M187.1 406.7v15.0M180.3 415.6h15.0M187.8 408.1v15.0M181.0 415.3h15.0M188.5 407.8v15.0M181.7 416.7h15.0M189.2 409.2v15.0M182.4 416.3h15.0M189.9 408.8v15.0M183.1 417.8h15.0M190.6 410.3v15.0M183.8 417.4h15.0M191.3 409.9v15.0M184.5 418.8h15.0M192.0 411.3v15.0M185.2 418.5h15.0M192.7 411.0v15.0M185.9 419.9h15.0M193.4 412.4v15.0M186.6 419.5h15.0M194.1 412.0v15.0M187.3 420.9h15.0M194.8 413.4v15.0M188.0 420.5h15.0M195.5 413.0v15.0M188.7 421.9h15.0M196.2 414.4v15.0M189.4 421.6h15.0M196.9 414.1v15.0M190.1 423.0h15.0M197.6 415.5v15.0M190.8 422.6h15.0M198.3 415.1v15.0M191.5 424.0h15.0M199.0 416.5v15.0M192.2 423.6h15.0M199.7 416.1v15.0M192.9 425.0h15.0M200.4 417.5v15.0M193.6 424.6h15.0M201.1 417.1v15.0M194.3 426.0h15.0M201.8 418.5v15.0M195.0 425.5h15.0M202.5 418.0v15.0M195.7 426.9h15.0M203.2 419.4v15.0M196.4 426.5h15.0M203.9 419.0v15.0M197.1 427.9h15.0M204.6 420.4v15.0M197.8 427.5h15.0M205.3 420.0v15.0M198.5 428.9h15.0M206.0 421.4v15.0M199.2 428.4h15.0M206.7 420.9v15.0M199.9 429.8h15.0M207.4 422.3v15.0M200.6 429.4h15.0M208.1 421.9v15.0M201.3 430.7h15.0M208.8 423.2v15.0M202.0 430.3h15.0M209.5 422.8v15.0M202.7 431.6h15.0M210.2 424.1v15.0M203.4 431.2h15.0M210.9 423.7v15.0M204.1 432.5h15.0M211.6 425.0v15.0M204.8 432.1h15.0M212.3 424.6v15.0M205.5 433.4h15.0M213.0 425.9v15.0M206.2 433.0h15.0M213.7 425.5v15.0M206.9 434.3h15.0M214.4 426.8v15.0M207.6 433.8h15.0M215.1 426.3v15.0M208.3 435.2h15.0M215.8 427.7v15.0M209.0 434.7h15.0M216.5 427.2v15.0M209.7 436.0h15.0M217.2 428.5v15.0M210.4 435.5h15.0M217.9 428.0v15.0M211.1 436.9h15.0M218.6 429.4v15.0M211.8 436.4h15.0M219.3 428.9v15.0M212.5 437.7h15.0M220.0 430.2v15.0M213.2 437.2h15.0M220.7 429.7v15.0M213.9 438.5h15.0M221.4 431.0v15.0M214.6 438.0h15.0M222.1 430.5v15.0M215.3 439.3h15.0M222.8 431.8v15.0M216.0 438.8h15.0M223.5 431.3v15.0M216.7 440.0h15.0M224.2 432.5v15.0M217.4 439.5h15.0M224.9 432.0v15.0M218.1 440.8h15.0M225.6 433.3v15.0M218.8 440.3h15.0M226.3 432.8v15.0M219.5 441.5h15.0M227.0 434.0v15.0M220.2 441.0h15.0M227.7 433.5v15.0M220.9 442.3h15.0M228.4 434.8v15.0M221.6 441.7h15.0M229.1 434.2v15.0M222.3 443.0h15.0M229.8 435.5v15.0M223.0 442.4h15.0M230.5 434.9v15.0M223.7 443.7h15.0M231.2 436.2v15.0M224.4 443.1h15.0M231.9 435.6v15.0M225.1 444.3h15.0M232.6 436.8v15.0M225.8 443.8h15.0M233.3 436.3v15.0M226.5 445.0h15.0M234.0 437.5v15.0M227.2 444.4h15.0M234.7 436.9v15.0M227.9 445.6h15.0M235.4 438.1v15.0M228.6 445.1h15.0M236.1 437.6v15.0M229.3 446.3h15.0M236.8 438.8v15.0M230.0 445.7h15.0M237.5 438.2v15.0M230.7 446.9h15.0M238.2 439.4v15.0M231.4 446.3h15.0M238.9 438.8v15.0M232.1 447.5h15.0M239.6 440.0v15.0M232.8 446.9h15.0M240.3 439.4v15.0M233.5 448.0h15.0M241.0 440.5v15.0M234.2 447.4h15.0M241.7 439.9v15.0M234.9 448.6h15.0M242.4 441.1v15.0M235.5 448.0h15.0M243.0 440.5v15.0M236.2 449.1h15.0M243.7 441.6v15.0M236.9 448.5h15.0M244.4 441.0v15.0M237.6 449.7h15.0M245.1 442.2v15.0M238.3 449.0h15.0M245.8 441.5v15.0M239.0 450.2h15.0M246.5 442.7v15.0M239.7 449.5h15.0M247.2 442.0v15.0M240.4 450.7h15.0M247.9 443.2v15.0M241.1 450.0h15.0M248.6 442.5v15.0M241.8 451.1h15.0M249.3 443.6v15.0M242.5 450.5h15.0M250.0 443.0v15.0M243.2 451.6h15.0M250.7 444.1v15.0M243.9 450.9h15.0M251.4 443.4v15.0M244.6 452.0h15.0M252.1 444.5v15.0M245.3 451.3h15.0M252.8 443.8v15.0M246.0 452.4h15.0M253.5 444.9v15.0M246.7 451.7h15.0M254.2 444.2v15.0M247.4 452.8h15.0M254.9 445.3v15.0M248.1 452.1h15.0M255.6 444.6v15.0M248.8 453.2h15.0M256.3 445.7v15.0M249.5 452.5h15.0M257.0 445.0v15.0M250.2 453.6h15.0M257.7 446.1v15.0M250.9 452.9h15.0M258.4 445.4v15.0M251.6 453.9h15.0M259.1 446.4v15.0M252.3 453.2h15.0M259.8 445.7v15.0M253.0 454.3h15.0M260.5 446.8v15.0M253.7 453.5h15.0M261.2 446.0v15.0M254.4 454.6h15.0M261.9 447.1v15.0M255.1 453.8h15.0M262.6 446.3v15.0M255.8 454.9h15.0M263.3 447.4v15.0M256.5 454.1h15.0M264.0 446.6v15.0M257.2 455.2h15.0M264.7 447.7v15.0M257.9 454.4h15.0M265.4 446.9v15.0M258.6 455.4h15.0M266.1 447.9v15.0M259.3 454.7h15.0M266.8 447.2v15.0M260.0 455.7h15.0M267.5 448.2v15.0M260.7 454.9h15.0M268.2 447.4v15.0M261.4 455.9h15.0M268.9 448.4v15.0M262.1 455.1h15.0M269.6 447.6v15.0M262.8 456.1h15.0M270.3 448.6v15.0M263.5 455.3h15.0M271.0 447.8v15.0M264.2 456.3h15.0M271.7 448.8v15.0M264.9 455.5h15.0M272.4 448.0v15.0M265.6 456.5h15.0M273.1 449.0v15.0M266.3 455.7h15.0M273.8 448.2v15.0M267.0 456.7h15.0M274.5 449.2v15.0M267.7 455.9h15.0M275.2 448.4v15.0M268.4 456.8h15.0M275.9 449.3v15.0M269.1 456.0h15.0M276.6 448.5v15.0M269.8 457.0h15.0M277.3 449.5v15.0M270.5 456.1h15.0M278.0 448.6v15.0M273.4 457.7h15.0M280.9 450.2v15.0M274.3 457.8h15.0M281.8 450.3v15.0M275.3 458.0h15.0M282.8 450.5v15.0M278.9 458.6h15.0M286.4 451.1v15.0M279.8 458.7h15.0M287.3 451.2v15.0M280.7 458.9h15.0M288.2 451.4v15.0M281.5 459.0h15.0M289.0 451.5v15.0M283.8 459.2h15.0M291.3 451.7v15.0M286.1 459.2h15.0M293.6 451.7v15.0M287.5 459.2h15.0M295.0 451.7v15.0M291.1 459.2h15.0M298.6 451.7v15.0M296.8 459.2h15.0M304.3 451.7v15.0M297.2 459.2h15.0M304.7 451.7v15.0M300.4 459.2h15.0M307.9 451.7v15.0M306.2 459.2h15.0M313.7 451.7v15.0M310.8 459.2h15.0M318.3 451.7v15.0M324.4 459.2h15.0M331.9 451.7v15.0M359.1 457.6h15.0M366.6 450.1v15.0M452.7 444.3h15.0M460.2 436.8v15.0M506.0 433.2h15.0M513.5 425.7v15.0"/>
<rect x="83.0" y="0.7" width="601.0" height="524.5999999999999" fill="none" stroke="#000" stroke-width="1.8"/>
<line x1="204.60" y1="525.3" x2="204.60" y2="539.3" stroke="#000" stroke-width="1.5"/>
<g transform="translate(204.60 570.9) scale(1 1.04)"><text x="-6.12" y="0" class="tkx">5</text></g>
<line x1="347.20" y1="525.3" x2="347.20" y2="539.3" stroke="#000" stroke-width="1.5"/>
<g transform="translate(347.20 570.9) scale(1 1.04)"><path d="M763 0L583 0L583 1147Q518 1085 412 1023Q306 961 222 930L222 1104Q373 1175 486 1276Q599 1377 646 1472L763 1472Z" transform="translate(-12.23 0) scale(0.01074 -0.01007)" class="g1"/><text x="0.00" y="0" class="tkx">0</text></g>
<line x1="489.80" y1="525.3" x2="489.80" y2="539.3" stroke="#000" stroke-width="1.5"/>
<g transform="translate(489.80 570.9) scale(1 1.04)"><path d="M763 0L583 0L583 1147Q518 1085 412 1023Q306 961 222 930L222 1104Q373 1175 486 1276Q599 1377 646 1472L763 1472Z" transform="translate(-12.23 0) scale(0.01074 -0.01007)" class="g1"/><text x="0.00" y="0" class="tkx">5</text></g>
<line x1="632.40" y1="525.3" x2="632.40" y2="539.3" stroke="#000" stroke-width="1.5"/>
<g transform="translate(632.40 570.9) scale(1 1.04)"><text x="-12.23" y="0" class="tkx">2</text><text x="0.00" y="0" class="tkx">0</text></g>
<line x1="69.0" y1="460.20" x2="83.0" y2="460.20" stroke="#000" stroke-width="1.5"/>
<g transform="translate(53.0 460.20) rotate(-90) scale(1 1.04)"><path d="M763 0L583 0L583 1147Q518 1085 412 1023Q306 961 222 930L222 1104Q373 1175 486 1276Q599 1377 646 1472L763 1472Z" transform="translate(-20.43 0) scale(0.01025 -0.00961)" class="g1"/><text x="-8.76" y="0" class="tky">.</text><text x="-2.92" y="0" class="tky">0</text><text x="8.76" y="0" class="tky">8</text></g>
<line x1="69.0" y1="382.46" x2="83.0" y2="382.46" stroke="#000" stroke-width="1.5"/>
<g transform="translate(53.0 382.46) rotate(-90) scale(1 1.04)"><path d="M763 0L583 0L583 1147Q518 1085 412 1023Q306 961 222 930L222 1104Q373 1175 486 1276Q599 1377 646 1472L763 1472Z" transform="translate(-20.43 0) scale(0.01025 -0.00961)" class="g1"/><text x="-8.76" y="0" class="tky">.</text><path d="M763 0L583 0L583 1147Q518 1085 412 1023Q306 961 222 930L222 1104Q373 1175 486 1276Q599 1377 646 1472L763 1472Z" transform="translate(-2.92 0) scale(0.01025 -0.00961)" class="g1"/><text x="8.76" y="0" class="tky">0</text></g>
<line x1="69.0" y1="304.72" x2="83.0" y2="304.72" stroke="#000" stroke-width="1.5"/>
<g transform="translate(53.0 304.72) rotate(-90) scale(1 1.04)"><path d="M763 0L583 0L583 1147Q518 1085 412 1023Q306 961 222 930L222 1104Q373 1175 486 1276Q599 1377 646 1472L763 1472Z" transform="translate(-20.43 0) scale(0.01025 -0.00961)" class="g1"/><text x="-8.76" y="0" class="tky">.</text><path d="M763 0L583 0L583 1147Q518 1085 412 1023Q306 961 222 930L222 1104Q373 1175 486 1276Q599 1377 646 1472L763 1472Z" transform="translate(-2.92 0) scale(0.01025 -0.00961)" class="g1"/><text x="8.76" y="0" class="tky">2</text></g>
<line x1="69.0" y1="226.98" x2="83.0" y2="226.98" stroke="#000" stroke-width="1.5"/>
<g transform="translate(53.0 226.98) rotate(-90) scale(1 1.04)"><path d="M763 0L583 0L583 1147Q518 1085 412 1023Q306 961 222 930L222 1104Q373 1175 486 1276Q599 1377 646 1472L763 1472Z" transform="translate(-20.43 0) scale(0.01025 -0.00961)" class="g1"/><text x="-8.76" y="0" class="tky">.</text><path d="M763 0L583 0L583 1147Q518 1085 412 1023Q306 961 222 930L222 1104Q373 1175 486 1276Q599 1377 646 1472L763 1472Z" transform="translate(-2.92 0) scale(0.01025 -0.00961)" class="g1"/><text x="8.76" y="0" class="tky">4</text></g>
<line x1="69.0" y1="149.24" x2="83.0" y2="149.24" stroke="#000" stroke-width="1.5"/>
<g transform="translate(53.0 149.24) rotate(-90) scale(1 1.04)"><path d="M763 0L583 0L583 1147Q518 1085 412 1023Q306 961 222 930L222 1104Q373 1175 486 1276Q599 1377 646 1472L763 1472Z" transform="translate(-20.43 0) scale(0.01025 -0.00961)" class="g1"/><text x="-8.76" y="0" class="tky">.</text><path d="M763 0L583 0L583 1147Q518 1085 412 1023Q306 961 222 930L222 1104Q373 1175 486 1276Q599 1377 646 1472L763 1472Z" transform="translate(-2.92 0) scale(0.01025 -0.00961)" class="g1"/><text x="8.76" y="0" class="tky">6</text></g>
<line x1="69.0" y1="71.50" x2="83.0" y2="71.50" stroke="#000" stroke-width="1.5"/>
<g transform="translate(53.0 71.50) rotate(-90) scale(1 1.04)"><path d="M763 0L583 0L583 1147Q518 1085 412 1023Q306 961 222 930L222 1104Q373 1175 486 1276Q599 1377 646 1472L763 1472Z" transform="translate(-20.43 0) scale(0.01025 -0.00961)" class="g1"/><text x="-8.76" y="0" class="tky">.</text><path d="M763 0L583 0L583 1147Q518 1085 412 1023Q306 961 222 930L222 1104Q373 1175 486 1276Q599 1377 646 1472L763 1472Z" transform="translate(-2.92 0) scale(0.01025 -0.00961)" class="g1"/><text x="8.76" y="0" class="tky">8</text></g>
<text transform="translate(414.6 604.5) scale(1 1.04)" text-anchor="middle" class="ttl">Total cholesterol (mmol/L)</text>
<text transform="translate(17.6 298.4) rotate(-90) scale(1 1.04)" text-anchor="middle" class="ttl ytl">Total bone mineral density (g/cm<tspan class="sup" dx="-0.5" dy="-8.5">2</tspan><tspan dx="-0.6" dy="8.5">)</tspan></text>
<text transform="translate(369.9 25.9) scale(1 1.04)" class="lg">Race</text>
<text transform="translate(402.4 52.4) scale(1 1.04)" class="lg">Non-Hispanic White</text>
<text transform="translate(402.4 77.9) scale(1 1.04)" class="lg">Non-Hispanic Black</text>
<text transform="translate(402.4 103.0) scale(1 1.04)" class="lg">Mexican American</text>
<text transform="translate(402.4 128.2) scale(1 1.04)" class="lg">Other race/ethnicity</text>
<circle cx="376.8" cy="41.1" r="4.7" fill="#de2f1f"/>
<circle cx="376.5" cy="65.5" r="5.55" fill="none" stroke="#a3d110" stroke-width="1.8"/>
<path d="M375.3 84.6l6.0 10.4h-12.0z" fill="none" stroke="#8ddce1" stroke-width="1.6"/>
<path d="M367.8 116.7h15.0M375.3 109.2v15.0" fill="none" stroke="#6a48ae" stroke-width="1.9"/>
</svg>
</body></html>
